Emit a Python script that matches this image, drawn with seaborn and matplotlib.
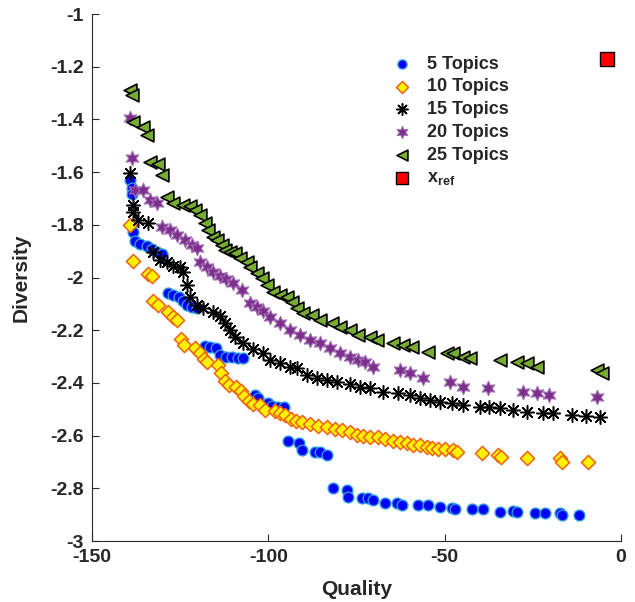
import matplotlib
matplotlib.use("Agg")
import matplotlib.pyplot as plt
import seaborn as sns
import numpy as np

# ---- data ----
q5 = [-139.2, -138.7, -138.7, -138.4, -137.8, -136.4, -134.4, -133.0, -131.6, -130.2,
      -128.5, -127.1, -125.4, -124.2, -123.1, -121.7, -120.3, -118.0, -116.6, -114.9,
      -113.7, -112.0, -110.3, -108.6, -107.2, -103.8, -103.0, -100.1, -99.0, -97.3,
      -95.6, -94.5, -91.4, -90.5, -86.8, -85.4, -83.4, -81.7, -77.8, -77.5,
      -73.5, -71.8, -70.4, -67.0, -63.6, -62.2, -57.6, -54.8, -51.4, -48.0,
      -47.2, -42.4, -39.2, -34.4, -30.7, -29.6, -24.5, -21.7, -17.4, -16.6, -11.8]
d5 = [-1.630, -1.660, -1.683, -1.827, -1.861, -1.873, -1.880, -1.892, -1.903, -1.911,
      -2.059, -2.066, -2.074, -2.089, -2.104, -2.112, -2.116, -2.260, -2.264, -2.268,
      -2.294, -2.302, -2.302, -2.306, -2.306, -2.446, -2.457, -2.476, -2.488, -2.491,
      -2.491, -2.620, -2.628, -2.655, -2.662, -2.662, -2.674, -2.799, -2.806, -2.833,
      -2.837, -2.837, -2.844, -2.856, -2.856, -2.863, -2.863, -2.863, -2.871, -2.875,
      -2.879, -2.879, -2.879, -2.890, -2.886, -2.890, -2.894, -2.894, -2.894, -2.901, -2.901]

q10 = [-139.2, -138.4, -134.1, -133.0, -132.7, -131.3, -128.5, -127.1, -125.9, -124.8,
       -123.9, -120.8, -119.4, -118.3, -117.4, -114.3, -113.5, -112.3, -111.2, -109.2,
       -107.8, -106.9, -105.5, -104.4, -102.4, -101.0, -98.2, -96.7, -95.3, -93.6,
       -92.2, -90.5, -88.2, -86.0, -83.4, -81.2, -79.2, -76.9, -74.9, -73.2,
       -71.2, -69.0, -67.0, -64.7, -62.7, -60.8, -59.1, -57.1, -55.1, -53.7,
       -52.0, -50.0, -47.7, -46.6, -39.5, -35.0, -33.9, -26.8, -17.4, -16.6, -9.5]
d10 = [-1.801, -1.937, -1.987, -1.994, -2.089, -2.104, -2.131, -2.150, -2.161, -2.233,
       -2.256, -2.268, -2.287, -2.309, -2.321, -2.332, -2.362, -2.393, -2.408, -2.416,
       -2.431, -2.450, -2.469, -2.480, -2.484, -2.503, -2.507, -2.514, -2.522, -2.537,
       -2.545, -2.548, -2.556, -2.564, -2.567, -2.575, -2.579, -2.586, -2.598, -2.602,
       -2.605, -2.605, -2.613, -2.621, -2.624, -2.628, -2.636, -2.636, -2.643, -2.647,
       -2.651, -2.651, -2.655, -2.662, -2.666, -2.674, -2.681, -2.685, -2.685, -2.700, -2.700]

q15 = [-139.2, -138.4, -138.4, -137.0, -134.1, -132.7, -130.7, -128.8, -127.1, -125.1,
       -124.2, -123.1, -122.2, -120.3, -118.6, -115.7, -113.7, -112.3, -110.9, -109.5,
       -107.2, -104.4, -101.6, -99.6, -96.7, -93.9, -91.9, -89.1, -86.3, -83.4,
       -80.6, -76.9, -74.1, -71.2, -67.6, -63.3, -59.9, -57.1, -54.2, -51.4,
       -48.0, -44.9, -40.1, -37.3, -34.4, -30.7, -26.8, -22.2, -19.4, -14.0, -9.8, -6.1]
d15 = [-1.603, -1.725, -1.751, -1.782, -1.793, -1.903, -1.934, -1.941, -1.956, -1.960,
       -1.979, -2.028, -2.074, -2.104, -2.116, -2.131, -2.146, -2.173, -2.199, -2.226,
       -2.249, -2.271, -2.287, -2.313, -2.325, -2.340, -2.343, -2.370, -2.381, -2.389,
       -2.397, -2.404, -2.416, -2.419, -2.435, -2.438, -2.446, -2.457, -2.465, -2.473,
       -2.476, -2.484, -2.491, -2.491, -2.495, -2.503, -2.510, -2.514, -2.514, -2.522, -2.526, -2.529]

q20 = [-139.2, -138.7, -137.8, -135.6, -133.6, -131.6, -130.2, -127.9, -125.9, -123.7,
       -121.7, -120.3, -119.4, -117.4, -115.7, -113.7, -112.0, -110.1, -107.5, -105.2,
       -103.3, -101.6, -99.6, -96.7, -93.9, -91.1, -88.2, -85.4, -82.6, -79.7,
       -76.9, -74.6, -72.7, -70.4, -62.7, -59.9, -56.2, -48.6, -44.9, -37.8,
       -27.9, -23.9, -20.3, -6.9]
d20 = [-1.395, -1.546, -1.668, -1.668, -1.706, -1.717, -1.808, -1.820, -1.839, -1.858,
       -1.877, -1.888, -1.941, -1.960, -1.979, -1.994, -2.006, -2.021, -2.047, -2.097,
       -2.112, -2.127, -2.150, -2.173, -2.199, -2.218, -2.237, -2.249, -2.268, -2.287,
       -2.302, -2.313, -2.321, -2.340, -2.351, -2.362, -2.381, -2.397, -2.416, -2.419,
       -2.435, -2.438, -2.446, -2.453]

q25 = [-139.2, -138.8, -138.4, -135.6, -134.4, -133.6, -131.3, -130.2, -128.8, -127.1,
       -124.2, -122.2, -120.8, -119.4, -118.0, -117.1, -115.7, -114.6, -113.2, -112.3,
       -110.9, -109.5, -108.1, -106.1, -105.2, -103.3, -101.8, -100.4, -98.7, -96.7,
       -94.8, -93.3, -91.9, -90.2, -87.7, -85.4, -82.0, -79.7, -76.9, -74.6,
       -71.2, -69.3, -64.7, -61.9, -59.3, -54.8, -49.4, -47.7, -44.9, -42.9,
       -34.4, -29.6, -26.8, -23.9, -6.9, -5.5]
d25 = [-1.288, -1.307, -1.410, -1.430, -1.460, -1.560, -1.570, -1.610, -1.695, -1.717,
       -1.725, -1.730, -1.744, -1.763, -1.793, -1.820, -1.846, -1.858, -1.877, -1.896,
       -1.903, -1.907, -1.926, -1.941, -1.960, -1.983, -2.002, -2.028, -2.055, -2.066,
       -2.074, -2.093, -2.116, -2.135, -2.142, -2.161, -2.173, -2.188, -2.199, -2.218,
       -2.226, -2.237, -2.249, -2.256, -2.264, -2.283, -2.287, -2.287, -2.302, -2.306,
       -2.313, -2.321, -2.325, -2.340, -2.351, -2.362]

x_ref_q = [-4.1]
x_ref_d = [-1.171]

x_ticks = [-150, -100, -50, 0]
y_ticks = [-3, -2.8, -2.6, -2.4, -2.2, -2, -1.8, -1.6, -1.4, -1.2, -1]
y_tick_labels = ["-3", "-2.8", "-2.6", "-2.4", "-2.2", "-2", "-1.8", "-1.6", "-1.4", "-1.2", "-1"]

# ---- style ----
sns.set_theme(style="ticks")
plt.rcParams.update({
    "font.family": ["Liberation Sans", "DejaVu Sans"],
    "font.weight": "bold",
    "axes.labelweight": "bold",
    "mathtext.fontset": "custom",
    "mathtext.rm": "Liberation Sans:bold",
    "mathtext.bf": "Liberation Sans:bold",
    "mathtext.it": "Liberation Sans:bold",
    "xtick.direction": "in",
    "ytick.direction": "in",
})

fig = plt.figure(figsize=(6.35, 6.02), dpi=100)
ax = fig.add_axes([0.145, 0.1013, 0.833, 0.8754])

sns.scatterplot(x=q5, y=d5, ax=ax, marker="o", s=60, color="#0000F5",
                edgecolor="#2E9BE0", linewidth=1.0, label="5 Topics", zorder=3)
sns.scatterplot(x=q10, y=d10, ax=ax, marker="D", s=52, color="#FFF200",
                edgecolor="#F06010", linewidth=1.1, label="10 Topics", zorder=3)
sns.scatterplot(x=q15, y=d15, ax=ax, marker=(8, 2, 0), s=95, color="black",
                linewidth=1.1, label="15 Topics", zorder=3)
sns.scatterplot(x=q20, y=d20, ax=ax, marker=(6, 1, 0), s=110, color="#7E2F8E",
                edgecolor="#A070B0", linewidth=0.8, label="20 Topics", zorder=3)
sns.scatterplot(x=q25, y=d25, ax=ax, marker="<", s=85, color="#77AC30",
                edgecolor="black", linewidth=1.2, label="25 Topics", zorder=3)
sns.scatterplot(x=x_ref_q, y=x_ref_d, ax=ax, marker="s", s=95, color="#FF0000",
                edgecolor="black", linewidth=1.0, label=r"$\mathbf{x}_{\mathbf{ref}}$", zorder=3)

ax.set_xlim(-150, 0)
ax.set_ylim(-3, -1)
ax.set_xticks(x_ticks)
ax.set_xticklabels([str(v) for v in x_ticks])
ax.set_yticks(y_ticks)
ax.set_yticklabels(y_tick_labels)
ax.tick_params(axis="both", labelsize=14, length=5, width=0.8, colors="#262626", pad=6)
for lab in ax.get_xticklabels() + ax.get_yticklabels():
    lab.set_fontweight("bold")
sns.despine(ax=ax)
for sp in ["left", "bottom"]:
    ax.spines[sp].set_color("#262626")
    ax.spines[sp].set_linewidth(0.8)

ax.set_xlabel("Quality", fontsize=15, fontweight="bold", color="#262626", labelpad=10)
ax.set_ylabel("Diversity", fontsize=15, fontweight="bold", color="#262626", labelpad=14)

leg = ax.legend(loc="upper left", bbox_to_anchor=(0.538, 0.935), frameon=False,
                prop={"weight": "bold", "size": 13}, labelspacing=0.32,
                handletextpad=0.4, borderaxespad=0, markerscale=0.85)

fig.savefig("out.png", dpi=100)
